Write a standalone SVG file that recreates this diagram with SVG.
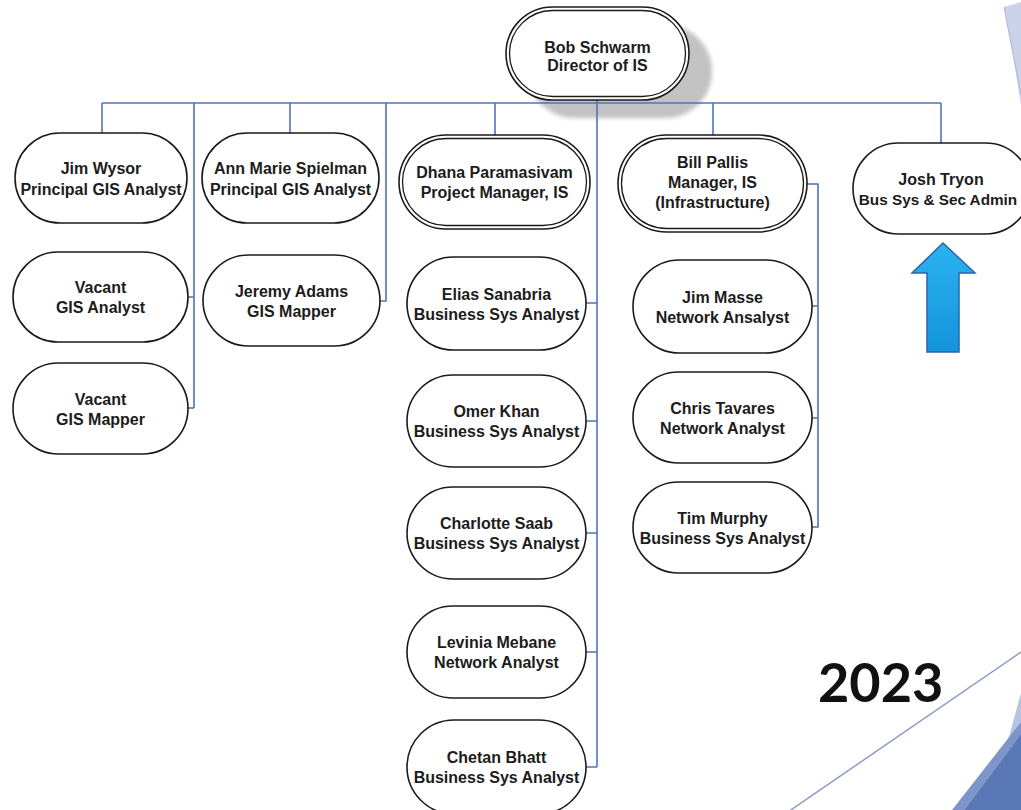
<svg xmlns="http://www.w3.org/2000/svg" width="1021" height="810" viewBox="0 0 1021 810">
  <defs>
    <filter id="blur" x="-10%" y="-10%" width="120%" height="130%">
      <feGaussianBlur stdDeviation="2"/>
    </filter>
    <linearGradient id="arrowFill" x1="0" y1="0" x2="0" y2="1">
      <stop offset="0" stop-color="#2bb2f0"/>
      <stop offset="1" stop-color="#1394dc"/>
    </linearGradient>
    <style>
      .node { fill: #ffffff; stroke: #1a1a1a; stroke-width: 1.6; }
      .inner { fill: none; stroke: #1a1a1a; stroke-width: 1.3; }
      .lbl { font-family: "Liberation Sans", Arial, sans-serif; font-weight: bold; font-size: 16px; fill: #1c1c1c; text-anchor: middle; }
      .conn { fill: none; stroke: #4f74b8; stroke-width: 1.6; }
      .deco { fill: none; stroke: #8b9dc6; stroke-width: 1.5; }
    </style>
  </defs>
  <rect width="1021" height="810" fill="#ffffff"/>

  <!-- background decoration -->
  <g id="decoration">
    <polygon points="1004,7 1021,2 1021,105 1013,55" fill="#cbd3ea"/>
    <line x1="1004" y1="7" x2="1021" y2="95" stroke="#a9b7da" stroke-width="1"/>
    <line class="deco" x1="785" y1="814" x2="1021" y2="652"/>
    <polygon points="1021,693 1006,748 1021,742" fill="#b6c4e3"/>
    <polygon points="952,810 1021,722 1021,734 964,810" fill="#7d95c8"/>
    <polygon points="964,810 1021,734 1021,810" fill="#5a78b6"/>
  </g>

  <!-- Bob shadow -->
  <rect x="528" y="25" width="184" height="93" rx="46" fill="#c2c2c2" filter="url(#blur)"/>

  <!-- connectors -->
  <g id="connectors">
    <path class="conn" d="M102 103 H941"/>
    <path class="conn" d="M597 100 V767"/>
    <path class="conn" d="M102 103 V133"/>
    <path class="conn" d="M194 103 V408 M188 297 H194 M188 408 H194"/>
    <path class="conn" d="M290 103 V133"/>
    <path class="conn" d="M386 103 V301 H380"/>
    <path class="conn" d="M495 103 V135"/>
    <path class="conn" d="M586 303 H597 M586 421 H597 M586 533 H597 M586 652 H597 M586 767 H597"/>
    <path class="conn" d="M713 103 V135"/>
    <path class="conn" d="M807 184 H818 V527 H812 M812 306 H818 M812 418 H818"/>
    <path class="conn" d="M941 103 V143"/>
  </g>

  <g id="bob-schwarm">
    <rect class="node" x="506" y="7" width="183" height="93" rx="46.5"/>
    <rect class="inner" x="509.5" y="10.5" width="176" height="86" rx="43"/>
    <text class="lbl" x="597.5" y="53">Bob Schwarm</text>
    <text class="lbl" x="597.5" y="71">Director of IS</text>
  </g>

  <g id="jim-wysor">
    <rect class="node" x="15" y="133" width="172" height="90" rx="45"/>
    <text class="lbl" x="101" y="174">Jim Wysor</text>
    <text class="lbl" x="101" y="195">Principal GIS Analyst</text>
  </g>
  <g id="vacant-gis-analyst">
    <rect class="node" x="13" y="252" width="175" height="90" rx="45"/>
    <text class="lbl" x="100.5" y="293">Vacant</text>
    <text class="lbl" x="100.5" y="313">GIS Analyst</text>
  </g>
  <g id="vacant-gis-mapper">
    <rect class="node" x="13" y="363" width="175" height="91" rx="45.5"/>
    <text class="lbl" x="100.5" y="404.5">Vacant</text>
    <text class="lbl" x="100.5" y="424.5">GIS Mapper</text>
  </g>

  <g id="ann-marie-spielman">
    <rect class="node" x="202" y="133" width="177" height="90" rx="45"/>
    <text class="lbl" x="290.5" y="174">Ann Marie Spielman</text>
    <text class="lbl" x="290.5" y="195">Principal GIS Analyst</text>
  </g>
  <g id="jeremy-adams">
    <rect class="node" x="203" y="255" width="177" height="91" rx="45.5"/>
    <text class="lbl" x="291.5" y="296.5">Jeremy Adams</text>
    <text class="lbl" x="291.5" y="316.5">GIS Mapper</text>
  </g>

  <g id="dhana-paramasivam">
    <rect class="node" x="399" y="135" width="191" height="94" rx="47"/>
    <rect class="inner" x="402.5" y="138.5" width="184" height="87" rx="43.5"/>
    <text class="lbl" x="494.5" y="178">Dhana Paramasivam</text>
    <text class="lbl" x="494.5" y="198">Project Manager, IS</text>
  </g>
  <g id="elias-sanabria">
    <rect class="node" x="407" y="257" width="179" height="93" rx="46.5"/>
    <text class="lbl" x="496.5" y="300">Elias Sanabria</text>
    <text class="lbl" x="496.5" y="320">Business Sys Analyst</text>
  </g>
  <g id="omer-khan">
    <rect class="node" x="407" y="375" width="179" height="92" rx="46"/>
    <text class="lbl" x="496.5" y="417">Omer Khan</text>
    <text class="lbl" x="496.5" y="437">Business Sys Analyst</text>
  </g>
  <g id="charlotte-saab">
    <rect class="node" x="407" y="487" width="179" height="92" rx="46"/>
    <text class="lbl" x="496.5" y="529">Charlotte Saab</text>
    <text class="lbl" x="496.5" y="549">Business Sys Analyst</text>
  </g>
  <g id="levinia-mebane">
    <rect class="node" x="407" y="606" width="179" height="92" rx="46"/>
    <text class="lbl" x="496.5" y="648">Levinia Mebane</text>
    <text class="lbl" x="496.5" y="668">Network Analyst</text>
  </g>
  <g id="chetan-bhatt">
    <rect class="node" x="407" y="720" width="179" height="94" rx="47"/>
    <text class="lbl" x="496.5" y="763">Chetan Bhatt</text>
    <text class="lbl" x="496.5" y="783">Business Sys Analyst</text>
  </g>

  <g id="bill-pallis">
    <rect class="node" x="618" y="135" width="189" height="97" rx="48.5"/>
    <rect class="inner" x="621.5" y="138.5" width="182" height="90" rx="45"/>
    <text class="lbl" x="712.5" y="168">Bill Pallis</text>
    <text class="lbl" x="712.5" y="188">Manager, IS</text>
    <text class="lbl" x="712.5" y="208">(Infrastructure)</text>
  </g>
  <g id="jim-masse">
    <rect class="node" x="633" y="260" width="179" height="93" rx="46.5"/>
    <text class="lbl" x="722.5" y="302.5">Jim Masse</text>
    <text class="lbl" x="722.5" y="322.5">Network Ansalyst</text>
  </g>
  <g id="chris-tavares">
    <rect class="node" x="633" y="372" width="179" height="91" rx="45.5"/>
    <text class="lbl" x="722.5" y="413.5">Chris Tavares</text>
    <text class="lbl" x="722.5" y="433.5">Network Analyst</text>
  </g>
  <g id="tim-murphy">
    <rect class="node" x="633" y="482" width="179" height="91" rx="45.5"/>
    <text class="lbl" x="722.5" y="523.5">Tim Murphy</text>
    <text class="lbl" x="722.5" y="543.5">Business Sys Analyst</text>
  </g>

  <g id="josh-tryon">
    <rect class="node" x="853" y="143" width="178" height="91" rx="45.5"/>
    <text class="lbl" x="941" y="184.5">Josh Tryon</text>
    <text class="lbl" x="938" y="204.5" style="font-size:15.3px">Bus Sys &amp; Sec Admin</text>
  </g>

  <g id="up-arrow">
    <polygon points="943,243 975,273 959,273 959,352 927,352 927,273 912,273" fill="url(#arrowFill)" stroke="#2c64a8" stroke-width="1.5" stroke-linejoin="miter"/>
  </g>

  <text x="818" y="702" font-family="Lato, 'Open Sans', sans-serif" font-weight="bold" font-size="54" fill="#111111">2023</text>
</svg>
